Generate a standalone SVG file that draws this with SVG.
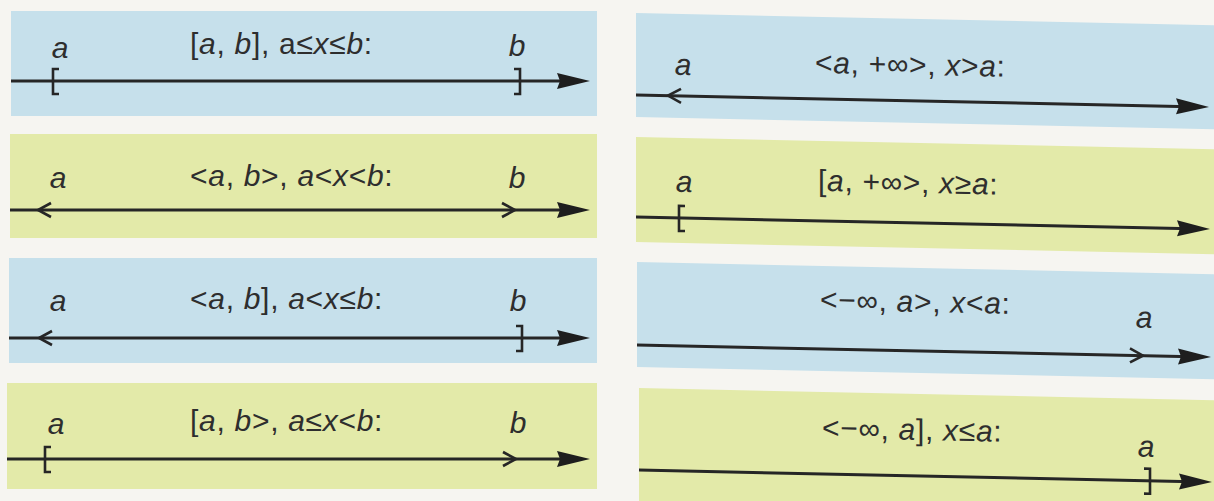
<svg xmlns="http://www.w3.org/2000/svg" xmlns:xlink="http://www.w3.org/1999/xlink" width="1214" height="501" viewBox="0 0 1214 501">
<style>
.bg{fill:#f6f5f1}
.blue{fill:#c6e0eb}
.green{fill:#e3eaa9}
.ln{stroke:#262626;stroke-width:3;fill:none}
.tk{stroke:#262626;stroke-width:2.6;fill:none;stroke-linejoin:miter}
.t{font-family:"Liberation Sans",Arial,sans-serif;font-size:30px;fill:#2e2e2e;letter-spacing:0.7px}
.lb{font-family:"Liberation Sans",Arial,sans-serif;font-size:30px;fill:#2e2e2e;font-style:italic;text-anchor:middle}
.i{font-style:italic}
</style>
<defs>
<marker id="big" markerUnits="userSpaceOnUse" markerWidth="40" markerHeight="20" refX="14" refY="8" orient="auto" overflow="visible">
<path d="M0,0 L33,8 L0,16 L3,8 Z" fill="#1e1e1e"/>
</marker>
<path id="gt" class="tk" d="M-13,-7 L0,0 L-13,7"/>
<path id="lt" class="tk" d="M13,-7 L0,0 L13,7"/>
<path id="lb" class="tk" d="M6,-12 H0 V13 H6"/>
<path id="rb" class="tk" d="M-6,-12 H0 V13 H-6"/>
</defs>
<rect class="bg" x="0" y="0" width="1214" height="501"/>

<g id="p1">
<rect class="blue" x="11" y="11" width="586" height="105"/>
<path class="ln" d="M11,81 H571" marker-end="url(#big)"/>
<use xlink:href="#lb" x="53" y="81"/>
<use xlink:href="#rb" x="520" y="81"/>
<text class="lb" x="60" y="58">a</text>
<text class="lb" x="517" y="56">b</text>
<text class="t" x="190" y="54">[<tspan class="i">a</tspan>, <tspan class="i">b</tspan>], a≤<tspan class="i">x</tspan>≤<tspan class="i">b</tspan>:</text>
</g>

<g id="p2">
<rect class="green" x="10" y="134" width="587" height="104"/>
<path class="ln" d="M10,210 H571" marker-end="url(#big)"/>
<use xlink:href="#lt" x="38" y="210"/>
<use xlink:href="#gt" x="515" y="210"/>
<text class="lb" x="58" y="188">a</text>
<text class="lb" x="517" y="188">b</text>
<text class="t" x="190" y="186">&lt;<tspan class="i">a</tspan>, <tspan class="i">b</tspan>&gt;, <tspan class="i">a</tspan>&lt;<tspan class="i">x</tspan>&lt;<tspan class="i">b</tspan>:</text>
</g>

<g id="p3">
<rect class="blue" x="9" y="258" width="588" height="105"/>
<path class="ln" d="M9,338 H571" marker-end="url(#big)"/>
<use xlink:href="#lt" x="39" y="338"/>
<use xlink:href="#rb" x="522" y="338"/>
<text class="lb" x="58" y="311">a</text>
<text class="lb" x="518" y="311">b</text>
<text class="t" x="190" y="309">&lt;<tspan class="i">a</tspan>, <tspan class="i">b</tspan>], <tspan class="i">a</tspan>&lt;<tspan class="i">x</tspan>≤<tspan class="i">b</tspan>:</text>
</g>

<g id="p4">
<rect class="green" x="7" y="383" width="590" height="106"/>
<path class="ln" d="M7,459 H571" marker-end="url(#big)"/>
<use xlink:href="#lb" x="45" y="459"/>
<use xlink:href="#gt" x="516" y="459"/>
<text class="lb" x="56" y="434">a</text>
<text class="lb" x="518" y="433">b</text>
<text class="t" x="190" y="431">[<tspan class="i">a</tspan>, <tspan class="i">b</tspan>&gt;, <tspan class="i">a</tspan>≤<tspan class="i">x</tspan>&lt;<tspan class="i">b</tspan>:</text>
</g>

<g id="right" transform="matrix(1,0.021,0,1,0,-13.356)">
<g id="p5">
<rect class="blue" x="636" y="13" width="578" height="104"/>
<path class="ln" d="M636,95 H1190" marker-end="url(#big)"/>
<use xlink:href="#lt" x="668" y="95"/>
<text class="lb" x="683" y="74">a</text>
<text class="t" x="815" y="69">&lt;<tspan class="i">a</tspan>, +∞&gt;, <tspan class="i">x</tspan>&gt;<tspan class="i">a</tspan>:</text>
</g>
<g id="p6">
<rect class="green" x="636" y="137" width="578" height="105"/>
<path class="ln" d="M636,217 H1191" marker-end="url(#big)"/>
<use xlink:href="#lb" x="679" y="217"/>
<text class="lb" x="684" y="191">a</text>
<text class="t" x="818" y="187">[<tspan class="i">a</tspan>, +∞&gt;, <tspan class="i">x</tspan>≥<tspan class="i">a</tspan>:</text>
</g>
<g id="p7">
<rect class="blue" x="637" y="262" width="577" height="105"/>
<path class="ln" d="M637,345 H1192" marker-end="url(#big)"/>
<use xlink:href="#gt" x="1143" y="345"/>
<text class="lb" x="1144" y="317">a</text>
<text class="t" x="820" y="306">&lt;−∞, <tspan class="i">a</tspan>&gt;, <tspan class="i">x</tspan>&lt;<tspan class="i">a</tspan>:</text>
</g>
<g id="p8">
<rect class="green" x="639" y="388" width="575" height="113"/>
<path class="ln" d="M639,470 H1193" marker-end="url(#big)"/>
<use xlink:href="#rb" x="1150" y="470"/>
<text class="lb" x="1146" y="446">a</text>
<text class="t" x="822" y="434">&lt;−∞, <tspan class="i">a</tspan>], <tspan class="i">x</tspan>≤<tspan class="i">a</tspan>:</text>
</g>
</g>
</svg>
